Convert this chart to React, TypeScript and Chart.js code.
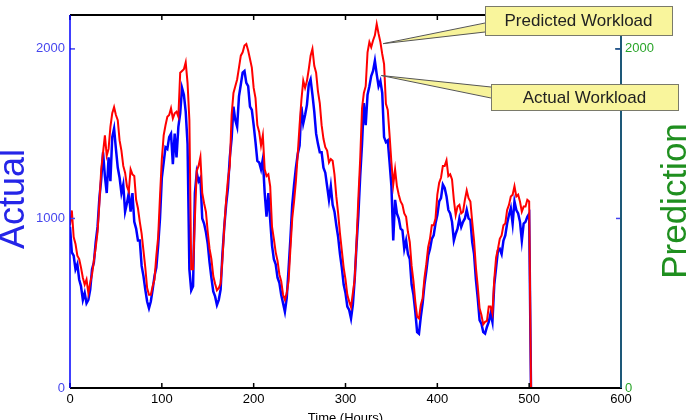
import React, { useEffect, useRef } from "react";
import { Chart, registerables } from "chart.js";

Chart.register(...registerables);

// Actual workload, sampled every 2 hours starting at hour 0
const ACTUAL: number[] = [
  950, 800, 780, 700, 730, 640, 600, 520, 560, 500,
  520, 580, 700, 740, 860, 950, 1120, 1230, 1390, 1250,
  1150, 1360, 1220, 1480, 1530, 1410, 1300, 1240, 1150, 1200,
  1040, 1090, 1150, 1040, 1150, 980, 940, 870, 870, 720,
  660, 580, 510, 470, 510, 580, 660, 710, 840, 1000,
  1240, 1330, 1420, 1410, 1480, 1500, 1320, 1500, 1360, 1540,
  1620, 1770, 1730, 1630, 1440, 700, 576, 600, 1150, 1270,
  1220, 1240, 1000, 970, 920, 850, 740, 650, 570, 540,
  490, 520, 580, 790, 950, 1080, 1180, 1360, 1470, 1660,
  1580, 1540, 1720, 1790, 1860, 1870, 1800, 1780, 1660, 1640,
  1550, 1450, 1340, 1330, 1290, 1350, 1150, 1010, 1150, 990,
  840, 760, 730, 650, 620, 550, 500, 450, 530, 700,
  880, 1080, 1200, 1300, 1380, 1430, 1660, 1560, 1610, 1670,
  1790, 1820, 1730, 1630, 1500, 1440, 1390, 1390, 1300, 1270,
  1190, 1110, 1190, 1080, 1040, 960, 890, 790, 710, 610,
  560, 480, 460, 410, 490, 640, 840, 1020, 1250, 1440,
  1680, 1550, 1730, 1780, 1840, 1870, 1930, 1850, 1780, 1810,
  1740, 1480, 1450, 1460, 1330, 1190, 870, 1110, 1030, 1000,
  940, 930, 820, 870, 790, 760, 610, 550, 450, 330,
  320, 420, 500, 610, 690, 780, 820, 880, 900, 970,
  1020, 1100, 1120, 1200, 1180, 1130, 1050, 1030, 980, 870,
  910, 940, 1000, 950, 980, 1000, 1050, 1000, 990, 860,
  790, 640, 530, 400, 380, 330, 321, 360, 390, 440,
  390, 610, 710, 810, 820, 790, 870, 900, 970, 1020,
  1060, 970, 1100, 1050, 1030, 980, 870, 970, 980, 1010,
  1028, 0,
];

// Predicted workload, same sampling
const PREDICTED: number[] = [
  960, 1047, 890, 850, 780, 760, 710, 650, 610, 640,
  560, 620, 670, 750, 830, 920, 1090, 1290, 1390, 1490,
  1370, 1410, 1540, 1620, 1656, 1610, 1580, 1460, 1400, 1310,
  1270, 1190, 1160, 1290, 1260, 1250, 1110, 1060, 980, 910,
  810, 710, 590, 550, 550, 600, 640, 780, 890, 1130,
  1350, 1490, 1550, 1600, 1610, 1650, 1590, 1620, 1630, 1600,
  1860, 1870, 1880, 1921, 1800, 1580, 700, 700, 1000, 1280,
  1310, 1362, 1150, 1090, 1040, 920, 820, 760, 660, 615,
  576, 590, 615, 760, 950, 1106, 1230, 1310, 1610, 1740,
  1780, 1820, 1890, 1960, 1980, 2020, 2029, 1990, 1940, 1890,
  1770, 1710, 1550, 1510, 1430, 1490, 1290, 1250, 1260, 1190,
  950, 880, 800, 750, 670, 630, 550, 520, 560, 630,
  820, 1000, 1100, 1220, 1380, 1550, 1700, 1813, 1770, 1810,
  1880, 1960, 2000, 1900, 1860, 1750, 1680, 1550, 1470, 1420,
  1400, 1330, 1350, 1340, 1260, 1130, 1030, 910, 810, 710,
  640, 550, 510, 477, 560, 640, 860, 1120, 1350, 1650,
  1740, 1780, 1980, 2040, 2010, 2050, 2080, 2147, 2090, 2040,
  1970, 1910, 1676, 1640, 1490, 1330, 1200, 1290, 1190, 1140,
  1100, 1080, 1030, 1010, 920, 860, 720, 630, 510, 420,
  410, 490, 530, 650, 730, 830, 880, 960, 960, 1000,
  1140, 1210, 1240, 1310, 1310, 1343, 1250, 1260, 1230, 1110,
  1020, 1070, 1080, 1030, 1040, 1110, 1165, 1120, 1100, 980,
  870, 710, 600, 470, 430, 375, 390, 395, 480, 480,
  440, 640, 770, 820, 880, 900, 960, 970, 1050, 1080,
  1130, 1140, 1190, 1130, 1140, 1100, 1040, 1070, 1070, 1110,
  1100, 0,
];

const SAMPLE_STEP_HOURS = 2;
const HOURS: number[] = ACTUAL.map((_, i) => i * SAMPLE_STEP_HOURS);

const X_TICKS = [0, 100, 200, 300, 400, 500, 600];
const LEFT_TICKS = [0, 1000, 2000];
const RIGHT_TICKS = [0, 2000];
const X_MIN = 0;
const X_MAX = 600;
const Y_MIN = 0;
const Y_MAX = 2200;

const X_TITLE = "Time (Hours)";
const LEFT_TITLE = "Actual";
const RIGHT_TITLE = "Prediction";
const CALLOUT_LABELS = ["Predicted Workload", "Actual Workload"];
// callout tips in data coordinates (hour, value)
const CALLOUT_TIPS = [
  [341, 2031],
  [339, 1843],
];

const FONT = "'Liberation Sans', Arial, Helvetica, sans-serif";
const BLUE = "#0000ff";
const RED = "#ff0000";
const GREEN = "#1f8f1f";
const TEAL = "#1d5878";

const framePlugin = {
  id: "frame",
  afterDatasetsDraw(chart: any) {
    const { ctx, chartArea: a, scales } = chart;
    const x = scales.x;
    const yl = scales.y;
    const yr = scales.y2;
    const line = (x1: number, y1: number, x2: number, y2: number) => {
      ctx.beginPath();
      ctx.moveTo(x1, y1);
      ctx.lineTo(x2, y2);
      ctx.stroke();
    };
    ctx.save();
    ctx.lineWidth = 1.5;
    ctx.strokeStyle = "#000";
    for (const t of X_TICKS) {
      const px = x.getPixelForValue(t);
      line(px, a.bottom, px, a.bottom - 5);
      line(px, a.top, px, a.top + 5);
    }
    ctx.strokeStyle = "#4444ee";
    for (const t of LEFT_TICKS) {
      const py = yl.getPixelForValue(t);
      line(a.left, py, a.left + 5, py);
      line(a.right, py, a.right - 5, py);
    }
    ctx.strokeStyle = TEAL;
    for (const t of RIGHT_TICKS) {
      const py = yr.getPixelForValue(t);
      line(a.right, py, a.right - 6, py);
    }
    // frame
    ctx.lineWidth = 2;
    ctx.strokeStyle = "#000";
    line(a.left, a.top, a.right, a.top);
    line(a.left, a.bottom, a.right + 1, a.bottom);
    ctx.strokeStyle = BLUE;
    ctx.lineWidth = 1.5;
    line(a.left, a.top, a.left, a.bottom);
    ctx.strokeStyle = TEAL;
    ctx.lineWidth = 2;
    line(a.right, a.top, a.right, a.bottom);
    ctx.restore();
  },
  afterDraw(chart: any) {
    const { ctx, chartArea: a, scales } = chart;
    ctx.save();
    // axis titles
    ctx.fillStyle = "#000";
    ctx.font = `13px ${FONT}`;
    ctx.textAlign = "center";
    ctx.textBaseline = "top";
    ctx.fillText(X_TITLE, (a.left + a.right) / 2, 412);

    ctx.save();
    ctx.translate(14, 199);
    ctx.rotate(-Math.PI / 2);
    ctx.fillStyle = "#2525e8";
    ctx.font = `36px ${FONT}`;
    ctx.textAlign = "center";
    ctx.textBaseline = "middle";
    ctx.fillText(LEFT_TITLE, 0, 0);
    ctx.restore();

    ctx.save();
    ctx.translate(676, 201);
    ctx.rotate(-Math.PI / 2);
    ctx.fillStyle = GREEN;
    ctx.font = `35px ${FONT}`;
    ctx.textAlign = "center";
    ctx.textBaseline = "middle";
    ctx.fillText(RIGHT_TITLE, 0, 0);
    ctx.restore();

    // callouts
    const boxes = [
      { x: 485, y: 6, w: 187, h: 29, b1: 17, b2: 26 },
      { x: 491, y: 84, w: 187, h: 26, b1: 3, b2: 14 },
    ];
    boxes.forEach((b, i) => {
      const tx = scales.x.getPixelForValue(CALLOUT_TIPS[i][0]);
      const ty = scales.y.getPixelForValue(CALLOUT_TIPS[i][1]);
      ctx.beginPath();
      ctx.moveTo(b.x + 1, b.y + b.b1);
      ctx.lineTo(tx, ty);
      ctx.lineTo(b.x + 1, b.y + b.b2);
      ctx.closePath();
      ctx.fillStyle = "#f7f39a";
      ctx.fill();
      ctx.strokeStyle = "#555";
      ctx.lineWidth = 1;
      ctx.beginPath();
      ctx.moveTo(b.x, b.y + b.b1);
      ctx.lineTo(tx, ty);
      ctx.lineTo(b.x, b.y + b.b2);
      ctx.stroke();
      ctx.fillStyle = "#f9f59c";
      ctx.fillRect(b.x, b.y, b.w, b.h);
      ctx.strokeStyle = "#7a7a6a";
      ctx.strokeRect(b.x + 0.5, b.y + 0.5, b.w, b.h);
      ctx.fillStyle = "#222";
      ctx.font = `17px ${FONT}`;
      ctx.textAlign = "center";
      ctx.textBaseline = "middle";
      ctx.fillText(CALLOUT_LABELS[i], b.x + b.w / 2, b.y + b.h / 2 + 1);
    });
    ctx.restore();
  },
};

const plainLabel = (v: any) => String(v);

export default function App() {
  const ref = useRef<HTMLCanvasElement | null>(null);
  useEffect(() => {
    if (!ref.current) return;
    Chart.defaults.font.family = FONT;
    const chart = new Chart(ref.current, {
      type: "line",
      data: {
        datasets: [
          {
            label: "Predicted Workload",
            data: HOURS.map((h, i) => ({ x: h, y: PREDICTED[i] })),
            borderColor: RED,
            borderWidth: 2,
            pointRadius: 0,
            tension: 0,
            yAxisID: "y2",
          },
          {
            label: "Actual Workload",
            data: HOURS.map((h, i) => ({ x: h, y: ACTUAL[i] })),
            borderColor: BLUE,
            borderWidth: 2.5,
            pointRadius: 0,
            tension: 0,
            yAxisID: "y",
          },
        ],
      },
      options: {
        responsive: false,
        animation: false,
        events: [],
        layout: { padding: { top: 15, left: 0, right: 0, bottom: 0 } },
        plugins: { legend: { display: false }, tooltip: { enabled: false } },
        scales: {
          x: {
            type: "linear",
            min: X_MIN,
            max: X_MAX,
            grid: { display: false, drawTicks: false },
            border: { display: false },
            afterBuildTicks: (s: any) => {
              s.ticks = X_TICKS.map((v) => ({ value: v }));
            },
            afterFit: (s: any) => {
              s.height = 32;
            },
            ticks: {
              color: "#000",
              font: { size: 13 },
              padding: 4,
              maxRotation: 0,
              autoSkip: false,
              callback: plainLabel,
            },
          },
          y: {
            position: "left",
            min: Y_MIN,
            max: Y_MAX,
            grid: { display: false, drawTicks: false },
            border: { display: false },
            afterBuildTicks: (s: any) => {
              s.ticks = LEFT_TICKS.map((v) => ({ value: v }));
            },
            afterFit: (s: any) => {
              s.width = 70;
            },
            ticks: { color: "#4646ee", font: { size: 13 }, padding: 5, callback: plainLabel },
          },
          y2: {
            position: "right",
            min: Y_MIN,
            max: Y_MAX,
            grid: { display: false, drawTicks: false },
            border: { display: false },
            afterBuildTicks: (s: any) => {
              s.ticks = RIGHT_TICKS.map((v) => ({ value: v }));
            },
            afterFit: (s: any) => {
              s.width = 73;
            },
            ticks: { color: "#2aa52a", font: { size: 13 }, padding: 4, callback: plainLabel },
          },
        },
      },
      plugins: [framePlugin],
    });
    return () => chart.destroy();
  }, []);
  return (
    <div style={{ position: "absolute", left: 0, top: 0, width: 694, height: 420, background: "#fff" }}>
      <canvas ref={ref} width={694} height={420} />
    </div>
  );
}
